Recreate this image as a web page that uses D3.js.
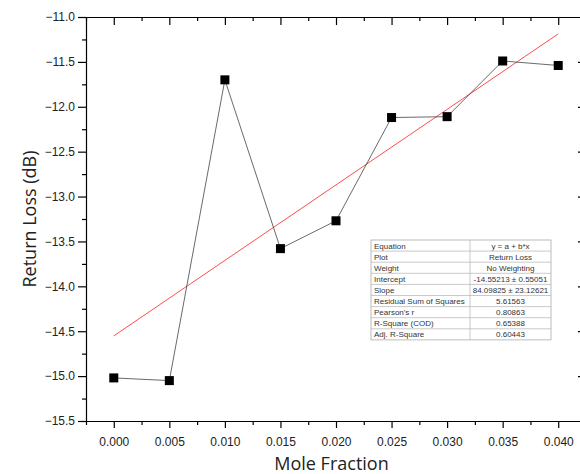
<!DOCTYPE html>
<html>
<head>
<meta charset="utf-8">
<script src="https://cdn.jsdelivr.net/npm/d3@7"></script>
<style>
  body { margin: 0; background: #fff; }
  svg { display: block; }
</style>
</head>
<body>
<svg id="chart" width="580" height="474"></svg>
<script>
// data
const moleFraction = [0.000, 0.005, 0.010, 0.015, 0.020, 0.025, 0.030, 0.035, 0.040];
const returnLoss = [-15.02, -15.05, -11.70, -13.58, -13.27, -12.12, -12.11, -11.49, -11.54];

const xTicks = [0.000, 0.005, 0.010, 0.015, 0.020, 0.025, 0.030, 0.035, 0.040];
const xMinor = [-0.0025, 0.0025, 0.0075, 0.0125, 0.0175, 0.0225, 0.0275, 0.0325, 0.0375];
const yTicks = [-11.0, -11.5, -12.0, -12.5, -13.0, -13.5, -14.0, -14.5, -15.0, -15.5];
const yMinor = [-11.25, -11.75, -12.25, -12.75, -13.25, -13.75, -14.25, -14.75, -15.25];

// linear fit results (from the table)
const fitIntercept = -14.55213;
const fitSlope = 84.09825;
const fitRange = [0.000, 0.040];

const tableLabels = ["Equation", "Plot", "Weight", "Intercept", "Slope",
  "Residual Sum of Squares", "Pearson's r", "R-Square (COD)", "Adj. R-Square"];
const tableValues = ["y = a + b*x", "Return Loss", "No Weighting",
  "-14.55213 \u00b1 0.55051", "84.09825 \u00b1 23.12621", "5.61563",
  "0.80863", "0.65388", "0.60443"];

const svg = d3.select("#chart");
const plotL = 86, plotR = 586, plotT = 17, plotB = 421;

const x = d3.scaleLinear().domain([-0.0025, 0.0425]).range([plotL, plotR]);
const y = d3.scaleLinear().domain([-15.5, -11.0]).range([plotB, plotT]);

const tickFont = "Liberation Sans, Arial, sans-serif";

// bottom axis, major + minor
svg.append("g")
  .attr("transform", `translate(0,${plotB})`)
  .call(d3.axisBottom(x).tickValues(xMinor).tickSize(4).tickFormat(""))
  .call(g => g.select(".domain").remove());
svg.append("g")
  .attr("transform", `translate(0,${plotB})`)
  .call(d3.axisBottom(x).tickValues(xTicks).tickSize(7).tickPadding(9).tickFormat(d3.format(".3f")).tickSizeOuter(0))
  .call(g => g.selectAll("text").style("font-family", tickFont).style("font-size", "12px").attr("fill", "#222"));

// top axis, ticks inward, no labels
svg.append("g")
  .attr("transform", `translate(0,${plotT})`)
  .call(d3.axisBottom(x).tickValues(xMinor).tickSize(4).tickFormat(""))
  .call(g => g.select(".domain").remove());
svg.append("g")
  .attr("transform", `translate(0,${plotT})`)
  .call(d3.axisBottom(x).tickValues(xTicks).tickSize(8).tickFormat("").tickSizeOuter(0));

// left axis
svg.append("g")
  .attr("transform", `translate(${plotL},0)`)
  .call(d3.axisLeft(y).tickValues(yMinor).tickSize(4).tickFormat(""))
  .call(g => g.select(".domain").remove());
svg.append("g")
  .attr("transform", `translate(${plotL},0)`)
  .call(d3.axisLeft(y).tickValues(yTicks).tickSize(8).tickPadding(3).tickFormat(d3.format(".1f")).tickSizeOuter(0))
  .call(g => g.selectAll("text").style("font-family", tickFont).style("font-size", "12px").attr("fill", "#222"));

// right axis, ticks inward (mostly off the edge)
svg.append("g")
  .attr("transform", `translate(${plotR},0)`)
  .call(d3.axisRight(y).tickValues(yTicks).tickSize(-8).tickFormat("").tickSizeOuter(0));

svg.selectAll(".domain, .tick line").attr("stroke", "#000").attr("stroke-width", 1.2);

// linear fit
svg.append("line")
  .attr("x1", x(fitRange[0])).attr("y1", y(fitIntercept + fitSlope * fitRange[0]))
  .attr("x2", x(fitRange[1])).attr("y2", y(fitIntercept + fitSlope * fitRange[1]))
  .attr("stroke", "#ff4d4d").attr("stroke-width", 1);

// data line + markers
const points = moleFraction.map((m, i) => ({ m, v: returnLoss[i] }));
svg.append("path")
  .datum(points)
  .attr("fill", "none")
  .attr("stroke", "#444")
  .attr("stroke-width", 0.8)
  .attr("d", d3.line().x(d => x(d.m)).y(d => y(d.v)));

svg.selectAll("rect.pt")
  .data(points)
  .join("rect")
  .attr("class", "pt")
  .attr("x", d => x(d.m) - 4.5)
  .attr("y", d => y(d.v) - 4.5)
  .attr("width", 9)
  .attr("height", 9)
  .attr("fill", "#000");

// fit results table
const tX = 371, tY = 240, rowH = 11.1, col1 = 99, col2 = 81;
const table = svg.append("g").attr("transform", `translate(${tX},${tY})`);
table.append("rect")
  .attr("width", col1 + col2).attr("height", rowH * tableLabels.length)
  .attr("fill", "#fff").attr("stroke", "#aaa").attr("stroke-width", 0.8);
tableLabels.forEach((lab, i) => {
  if (i > 0) {
    table.append("line")
      .attr("x1", 0).attr("x2", col1 + col2)
      .attr("y1", i * rowH).attr("y2", i * rowH)
      .attr("stroke", "#bbb").attr("stroke-width", 0.8);
  }
  table.append("text")
    .attr("x", 3).attr("y", i * rowH + rowH / 2 + 3)
    .style("font-family", tickFont).style("font-size", "8px")
    .attr("fill", "#333")
    .text(lab);
  table.append("text")
    .attr("x", col1 + col2 / 2).attr("y", i * rowH + rowH / 2 + 3)
    .attr("text-anchor", "middle")
    .style("font-family", tickFont).style("font-size", "8px")
    .attr("fill", "#333")
    .text(tableValues[i]);
});
table.append("line")
  .attr("x1", col1).attr("x2", col1)
  .attr("y1", 0).attr("y2", rowH * tableLabels.length)
  .attr("stroke", "#bbb").attr("stroke-width", 0.8);

// axis titles
svg.append("text")
  .attr("x", (plotL + 581) / 2 - 2)
  .attr("y", 470)
  .attr("text-anchor", "middle")
  .style("font-family", "Open Sans, sans-serif")
  .style("font-size", "18px")
  .attr("fill", "#222")
  .text("Mole Fraction");

svg.append("text")
  .attr("transform", `translate(36,${(plotT + plotB) / 2}) rotate(-90)`)
  .attr("text-anchor", "middle")
  .style("font-family", "Open Sans, sans-serif")
  .style("font-size", "18px")
  .attr("fill", "#222")
  .text("Return Loss (dB)");
</script>
</body>
</html>
